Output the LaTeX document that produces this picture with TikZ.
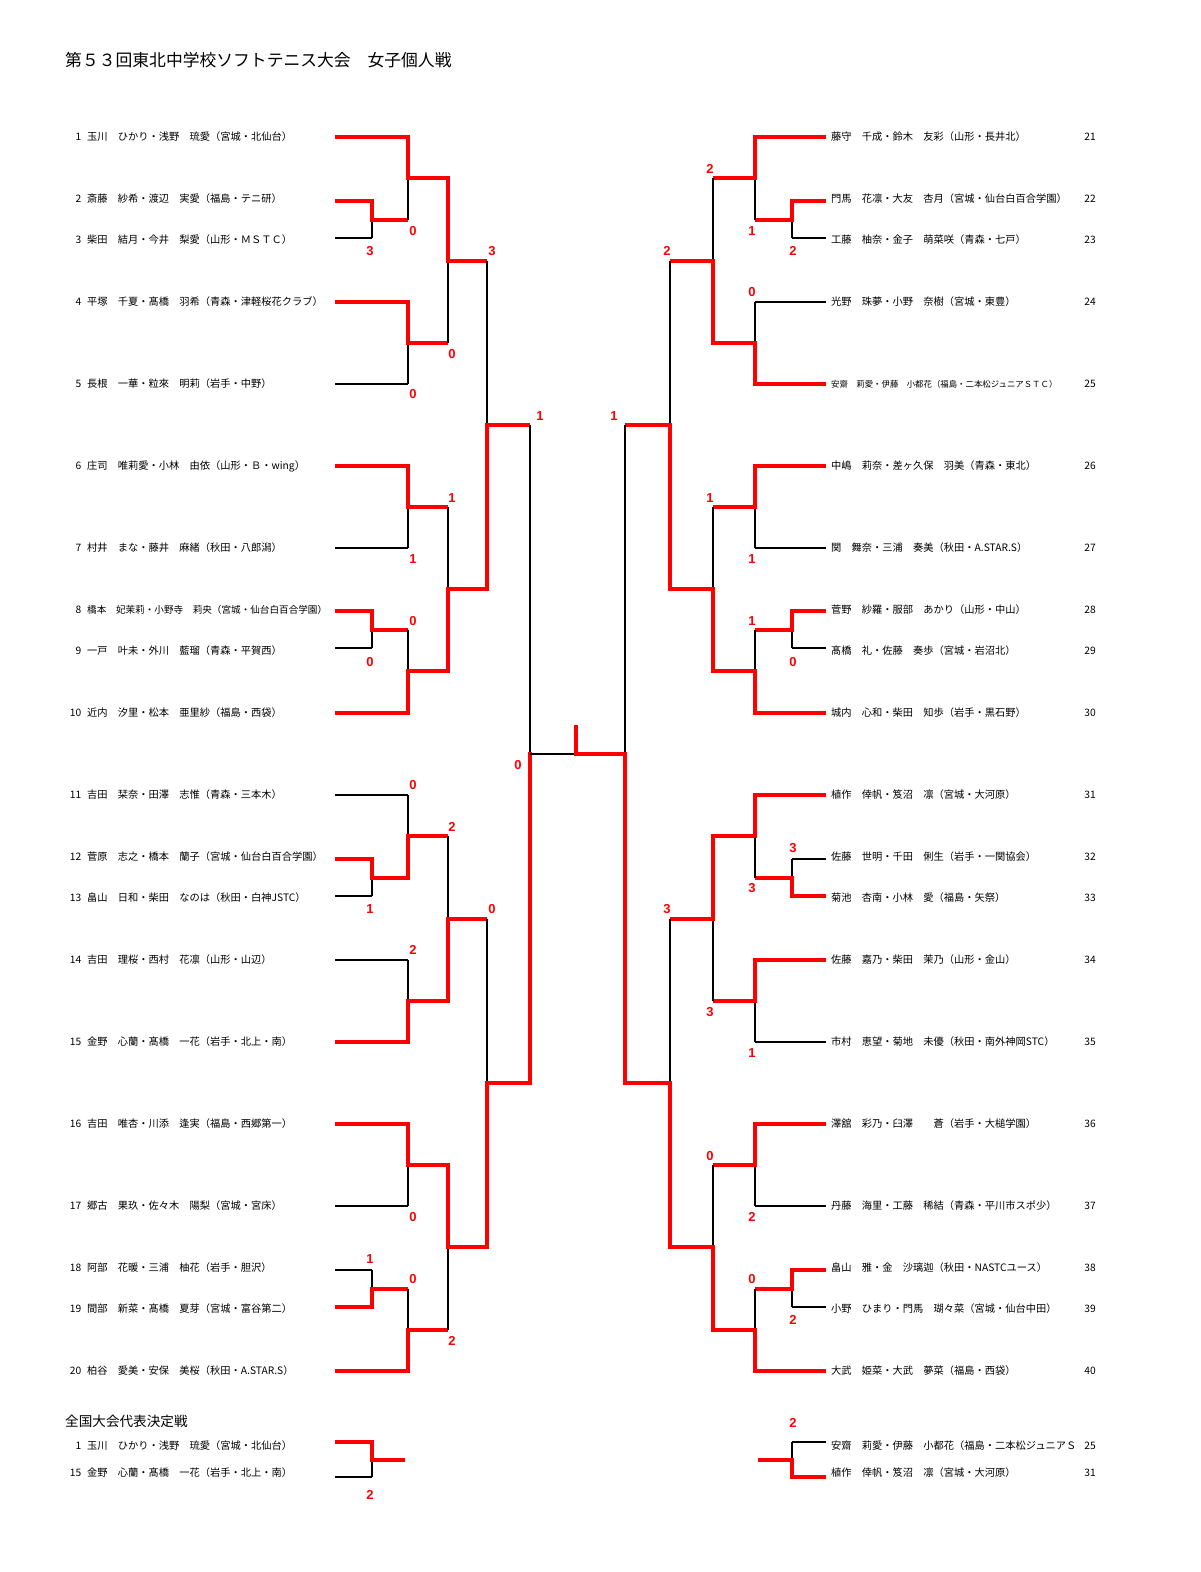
\documentclass[tikz,border=0pt]{standalone}
\usepackage{fontspec}
\setmainfont{Noto Sans CJK JP}
\newfontfamily\scorefont{Liberation Sans}
\usetikzlibrary{calc}

\newcommand{\rno}[1]{\makebox[12pt][r]{#1}\hspace{6pt}}
\newcommand{\bout}[6]{%
	\coordinate (#1) at ($(#2 |- #3)!.5!(#2 |- #4)$);
	\if#5t
		\draw[lose] (#2 |- #4) -- (#1);
		\draw[win,line cap=rect] (#2 |- #3) -- (#1);
	\else
		\draw[lose] (#2 |- #3) -- (#1);
		\draw[win,line cap=rect] (#2 |- #4) -- (#1);
	\fi
	\draw[win] (#1) -- (#6 |- #1);}

\begin{document}
\begin{tikzpicture}[x=1pt,y=-1pt,
	win/.style={draw=red,line width=4pt},
	lose/.style={draw=black,line width=1.6pt},
	entry/.style={anchor=west,inner sep=0pt,font=\fontsize{10.25}{12}\selectfont},
	idx/.style={anchor=east,inner sep=0pt,font=\fontsize{10.25}{12}\selectfont},
	score/.style={text=red,inner sep=0pt,font=\scorefont\bfseries\fontsize{13}{13}\selectfont}]
	\path[fill=white,use as bounding box] (0,0) rectangle (1200,1572);

	\node[anchor=west,inner sep=0pt,font=\fontsize{16.8}{20}\selectfont] (title) at (65,60) {第５３回東北中学校ソフトテニス大会　女子個人戦};

	\node[entry] (e1) at (69,137) {\rno{1}玉川　ひかり・浅野　琉愛（宮城・北仙台）};
	\node[entry] (e2) at (69,199) {\rno{2}斎藤　紗希・渡辺　実愛（福島・テニ研）};
	\node[entry] (e3) at (69,240) {\rno{3}柴田　結月・今井　梨愛（山形・ＭＳＴＣ）};
	\node[entry] (e4) at (69,302) {\rno{4}平塚　千夏・髙橋　羽希（青森・津軽桜花クラブ）};
	\node[entry] (e5) at (69,384) {\rno{5}長根　一華・粒來　明莉（岩手・中野）};
	\node[entry] (e6) at (69,466) {\rno{6}庄司　唯莉愛・小林　由依（山形・Ｂ・wing）};
	\node[entry] (e7) at (69,548) {\rno{7}村井　まな・藤井　麻緒（秋田・八郎潟）};
	\node[entry] (e8) at (69,610) {\rno{8}{\fontsize{9.6}{12}\selectfont 橋本　妃茉莉・小野寺　莉央（宮城・仙台白百合学園）}};
	\node[entry] (e9) at (69,651) {\rno{9}一戸　叶未・外川　藍瑠（青森・平賀西）};
	\node[entry] (e10) at (69,713) {\rno{10}近内　汐里・松本　亜里紗（福島・西袋）};
	\node[entry] (e11) at (69,795) {\rno{11}吉田　栞奈・田澤　志惟（青森・三本木）};
	\node[entry] (e12) at (69,857) {\rno{12}菅原　志之・橋本　蘭子（宮城・仙台白百合学園）};
	\node[entry] (e13) at (69,898) {\rno{13}畠山　日和・柴田　なのは（秋田・白神JSTC）};
	\node[entry] (e14) at (69,960) {\rno{14}吉田　理桜・西村　花凛（山形・山辺）};
	\node[entry] (e15) at (69,1042) {\rno{15}金野　心蘭・髙橋　一花（岩手・北上・南）};
	\node[entry] (e16) at (69,1124) {\rno{16}吉田　唯杏・川添　逢実（福島・西郷第一）};
	\node[entry] (e17) at (69,1206) {\rno{17}郷古　果玖・佐々木　陽梨（宮城・宮床）};
	\node[entry] (e18) at (69,1268) {\rno{18}阿部　花暖・三浦　柚花（岩手・胆沢）};
	\node[entry] (e19) at (69,1309) {\rno{19}間部　新菜・髙橋　夏芽（宮城・富谷第二）};
	\node[entry] (e20) at (69,1371) {\rno{20}柏谷　愛美・安保　美桜（秋田・A.STAR.S）};

	\node[entry] (e21) at (831,137) {藤守　千成・鈴木　友彩（山形・長井北）};
	\node[entry] (e22) at (831,199) {門馬　花凛・大友　杏月（宮城・仙台白百合学園）};
	\node[entry] (e23) at (831,240) {工藤　柚奈・金子　萌菜咲（青森・七戸）};
	\node[entry] (e24) at (831,302) {光野　珠夢・小野　奈樹（宮城・東豊）};
	\node[entry] (e25) at (831,384) {{\fontsize{8.4}{10}\selectfont 安齋　莉愛・伊藤　小都花（福島・二本松ジュニアＳＴＣ）}};
	\node[entry] (e26) at (831,466) {中嶋　莉奈・差ヶ久保　羽美（青森・東北）};
	\node[entry] (e27) at (831,548) {関　舞奈・三浦　奏美（秋田・A.STAR.S）};
	\node[entry] (e28) at (831,610) {菅野　紗羅・服部　あかり（山形・中山）};
	\node[entry] (e29) at (831,651) {髙橋　礼・佐藤　奏歩（宮城・岩沼北）};
	\node[entry] (e30) at (831,713) {城内　心和・柴田　知歩（岩手・黒石野）};
	\node[entry] (e31) at (831,795) {植作　倖帆・笈沼　凛（宮城・大河原）};
	\node[entry] (e32) at (831,857) {佐藤　世明・千田　俐生（岩手・一関協会）};
	\node[entry] (e33) at (831,898) {菊池　杏南・小林　愛（福島・矢祭）};
	\node[entry] (e34) at (831,960) {佐藤　嘉乃・柴田　茉乃（山形・金山）};
	\node[entry] (e35) at (831,1042) {市村　恵望・菊地　未優（秋田・南外神岡STC）};
	\node[entry] (e36) at (831,1124) {澤舘　彩乃・臼澤　　蒼（岩手・大槌学園）};
	\node[entry] (e37) at (831,1206) {丹藤　海里・工藤　稀結（青森・平川市スポ少）};
	\node[entry] (e38) at (831,1268) {畠山　雅・金　沙璃迦（秋田・NASTCユース）};
	\node[entry] (e39) at (831,1309) {小野　ひまり・門馬　瑚々菜（宮城・仙台中田）};
	\node[entry] (e40) at (831,1371) {大武　姫菜・大武　夢菜（福島・西袋）};

	\node[idx] (k21) at (1096,137) {21};
	\node[idx] (k22) at (1096,199) {22};
	\node[idx] (k23) at (1096,240) {23};
	\node[idx] (k24) at (1096,302) {24};
	\node[idx] (k25) at (1096,384) {25};
	\node[idx] (k26) at (1096,466) {26};
	\node[idx] (k27) at (1096,548) {27};
	\node[idx] (k28) at (1096,610) {28};
	\node[idx] (k29) at (1096,651) {29};
	\node[idx] (k30) at (1096,713) {30};
	\node[idx] (k31) at (1096,795) {31};
	\node[idx] (k32) at (1096,857) {32};
	\node[idx] (k33) at (1096,898) {33};
	\node[idx] (k34) at (1096,960) {34};
	\node[idx] (k35) at (1096,1042) {35};
	\node[idx] (k36) at (1096,1124) {36};
	\node[idx] (k37) at (1096,1206) {37};
	\node[idx] (k38) at (1096,1268) {38};
	\node[idx] (k39) at (1096,1309) {39};
	\node[idx] (k40) at (1096,1371) {40};

	\coordinate (L0) at (372,0);
	\coordinate (L1) at (408,0);
	\coordinate (L2) at (448,0);
	\coordinate (L3) at (487,0);
	\coordinate (L4) at (530,0);
	\coordinate (F) at (576,0);
	\coordinate (R4) at (625,0);
	\coordinate (R3) at (670,0);
	\coordinate (R2) at (713,0);
	\coordinate (R1) at (755,0);
	\coordinate (R0) at (792,0);

	\coordinate (a1) at (335,137); \draw[win] (a1) -- (L1 |- a1);
	\coordinate (a2) at (335,201); \draw[win] (a2) -- (L0 |- a2);
	\coordinate (a3) at (335,238); \draw[lose] (a3) -- (L0 |- a3);
	\coordinate (a4) at (335,302); \draw[win] (a4) -- (L1 |- a4);
	\coordinate (a5) at (335,384); \draw[lose] (a5) -- (L1 |- a5);
	\coordinate (a6) at (335,466); \draw[win] (a6) -- (L1 |- a6);
	\coordinate (a7) at (335,548); \draw[lose] (a7) -- (L1 |- a7);
	\coordinate (a8) at (335,611); \draw[win] (a8) -- (L0 |- a8);
	\coordinate (a9) at (335,648); \draw[lose] (a9) -- (L0 |- a9);
	\coordinate (a10) at (335,713); \draw[win] (a10) -- (L1 |- a10);
	\coordinate (a11) at (335,795); \draw[lose] (a11) -- (L1 |- a11);
	\coordinate (a12) at (335,859); \draw[win] (a12) -- (L0 |- a12);
	\coordinate (a13) at (335,896); \draw[lose] (a13) -- (L0 |- a13);
	\coordinate (a14) at (335,960); \draw[lose] (a14) -- (L1 |- a14);
	\coordinate (a15) at (335,1042); \draw[win] (a15) -- (L1 |- a15);
	\coordinate (a16) at (335,1124); \draw[win] (a16) -- (L1 |- a16);
	\coordinate (a17) at (335,1206); \draw[lose] (a17) -- (L1 |- a17);
	\coordinate (a18) at (335,1270); \draw[lose] (a18) -- (L0 |- a18);
	\coordinate (a19) at (335,1307); \draw[win] (a19) -- (L0 |- a19);
	\coordinate (a20) at (335,1371); \draw[win] (a20) -- (L1 |- a20);

	\coordinate (a21) at (826,137); \draw[win] (a21) -- (R1 |- a21);
	\coordinate (a22) at (826,201); \draw[win] (a22) -- (R0 |- a22);
	\coordinate (a23) at (826,238); \draw[lose] (a23) -- (R0 |- a23);
	\coordinate (a24) at (826,302); \draw[lose] (a24) -- (R1 |- a24);
	\coordinate (a25) at (826,384); \draw[win] (a25) -- (R1 |- a25);
	\coordinate (a26) at (826,466); \draw[win] (a26) -- (R1 |- a26);
	\coordinate (a27) at (826,548); \draw[lose] (a27) -- (R1 |- a27);
	\coordinate (a28) at (826,611); \draw[win] (a28) -- (R0 |- a28);
	\coordinate (a29) at (826,648); \draw[lose] (a29) -- (R0 |- a29);
	\coordinate (a30) at (826,713); \draw[win] (a30) -- (R1 |- a30);
	\coordinate (a31) at (826,795); \draw[win] (a31) -- (R1 |- a31);
	\coordinate (a32) at (826,859); \draw[lose] (a32) -- (R0 |- a32);
	\coordinate (a33) at (826,896); \draw[win] (a33) -- (R0 |- a33);
	\coordinate (a34) at (826,960); \draw[win] (a34) -- (R1 |- a34);
	\coordinate (a35) at (826,1042); \draw[lose] (a35) -- (R1 |- a35);
	\coordinate (a36) at (826,1124); \draw[win] (a36) -- (R1 |- a36);
	\coordinate (a37) at (826,1206); \draw[lose] (a37) -- (R1 |- a37);
	\coordinate (a38) at (826,1270); \draw[win] (a38) -- (R0 |- a38);
	\coordinate (a39) at (826,1307); \draw[lose] (a39) -- (R0 |- a39);
	\coordinate (a40) at (826,1371); \draw[win] (a40) -- (R1 |- a40);

	\bout{p2}{L0}{a2}{a3}{t}{L1}
	\bout{m1}{L1}{a1}{p2}{t}{L2}
	\bout{m2}{L1}{a4}{a5}{t}{L2}
	\bout{q1}{L2}{m1}{m2}{t}{L3}
	\bout{m3}{L1}{a6}{a7}{t}{L2}
	\bout{p8}{L0}{a8}{a9}{t}{L1}
	\bout{m4}{L1}{p8}{a10}{b}{L2}
	\bout{q2}{L2}{m3}{m4}{b}{L3}
	\bout{t1}{L3}{q1}{q2}{b}{L4}
	\bout{p12}{L0}{a12}{a13}{t}{L1}
	\bout{m5}{L1}{a11}{p12}{b}{L2}
	\bout{m6}{L1}{a14}{a15}{b}{L2}
	\bout{q3}{L2}{m5}{m6}{b}{L3}
	\bout{m7}{L1}{a16}{a17}{t}{L2}
	\bout{p18}{L0}{a18}{a19}{b}{L1}
	\bout{m8}{L1}{p18}{a20}{b}{L2}
	\bout{q4}{L2}{m7}{m8}{t}{L3}
	\bout{t2}{L3}{q3}{q4}{b}{L4}

	\bout{p22}{R0}{a22}{a23}{t}{R1}
	\bout{n1}{R1}{a21}{p22}{t}{R2}
	\bout{n2}{R1}{a24}{a25}{b}{R2}
	\bout{r1}{R2}{n1}{n2}{b}{R3}
	\bout{n3}{R1}{a26}{a27}{t}{R2}
	\bout{p28}{R0}{a28}{a29}{t}{R1}
	\bout{n4}{R1}{p28}{a30}{b}{R2}
	\bout{r2}{R2}{n3}{n4}{b}{R3}
	\bout{u1}{R3}{r1}{r2}{b}{R4}
	\bout{p32}{R0}{a32}{a33}{b}{R1}
	\bout{n5}{R1}{a31}{p32}{t}{R2}
	\bout{n6}{R1}{a34}{a35}{t}{R2}
	\bout{r3}{R2}{n5}{n6}{t}{R3}
	\bout{n7}{R1}{a36}{a37}{t}{R2}
	\bout{p38}{R0}{a38}{a39}{t}{R1}
	\bout{n8}{R1}{p38}{a40}{b}{R2}
	\bout{r4}{R2}{n7}{n8}{b}{R3}
	\bout{u2}{R3}{r3}{r4}{b}{R4}

	\coordinate (sL) at ($(L4 |- t1)!.5!(L4 |- t2)$);
	\draw[lose] (L4 |- t1) -- (sL);
	\draw[win,line cap=rect] (L4 |- t2) -- (sL);
	\coordinate (sR) at ($(R4 |- u1)!.5!(R4 |- u2)$);
	\draw[lose] (R4 |- u1) -- (sR);
	\draw[win,line cap=rect] (R4 |- u2) -- (sR);
	\coordinate (fw) at (576,725);
	\draw[lose] (sL) -- (F |- sL);
	\draw[win] (sR) -- (F |- sR) -- (fw);

	\node[anchor=west,inner sep=0pt,font=\fontsize{13.6}{16}\selectfont] (sub) at (65,1421) {全国大会代表決定戦};
	\node[entry] (x1) at (69,1446) {\rno{1}玉川　ひかり・浅野　琉愛（宮城・北仙台）};
	\node[entry] (x15) at (69,1473) {\rno{15}金野　心蘭・髙橋　一花（岩手・北上・南）};
	\begin{scope}
		\clip (831,1430) rectangle (1078,1462);
		\node[entry] (x25) at (831,1446) {\makebox[246pt][l]{安齋　莉愛・伊藤　小都花（福島・二本松ジュニアＳ}};
	\end{scope}
	\node[entry] (x31) at (831,1473) {植作　倖帆・笈沼　凛（宮城・大河原）};
	\node[idx] (kx25) at (1096,1446) {25};
	\node[idx] (kx31) at (1096,1473) {31};

	\coordinate (G1) at (405,0);
	\coordinate (G2) at (758,0);
	\coordinate (b1) at (335,1442); \draw[win] (b1) -- (L0 |- b1);
	\coordinate (b15) at (335,1477); \draw[lose] (b15) -- (L0 |- b15);
	\coordinate (b25) at (826,1442); \draw[lose] (b25) -- (R0 |- b25);
	\coordinate (b31) at (826,1477); \draw[win] (b31) -- (R0 |- b31);
	\bout{f1}{L0}{b1}{b15}{t}{G1}
	\bout{f2}{R0}{b25}{b31}{b}{G2}

	\node[score] (s1) at (413,231) {0};
	\node[score] (s2) at (370,251) {3};
	\node[score] (s3) at (492,251) {3};
	\node[score] (s4) at (452,354) {0};
	\node[score] (s5) at (413,394) {0};
	\node[score] (s6) at (540,416) {1};
	\node[score] (s7) at (452,498) {1};
	\node[score] (s8) at (413,559) {1};
	\node[score] (s9) at (413,621) {0};
	\node[score] (s10) at (370,662) {0};
	\node[score] (s11) at (518,765) {0};
	\node[score] (s12) at (413,785) {0};
	\node[score] (s13) at (452,827) {2};
	\node[score] (s14) at (370,909) {1};
	\node[score] (s15) at (492,909) {0};
	\node[score] (s16) at (413,950) {2};
	\node[score] (s17) at (413,1217) {0};
	\node[score] (s18) at (370,1259) {1};
	\node[score] (s19) at (413,1279) {0};
	\node[score] (s20) at (452,1341) {2};
	\node[score] (s21) at (370,1495) {2};
	\node[score] (s22) at (710,169) {2};
	\node[score] (s23) at (752,231) {1};
	\node[score] (s24) at (667,251) {2};
	\node[score] (s25) at (793,251) {2};
	\node[score] (s26) at (752,292) {0};
	\node[score] (s27) at (614,416) {1};
	\node[score] (s28) at (710,498) {1};
	\node[score] (s29) at (752,559) {1};
	\node[score] (s30) at (752,621) {1};
	\node[score] (s31) at (793,662) {0};
	\node[score] (s32) at (793,848) {3};
	\node[score] (s33) at (752,888) {3};
	\node[score] (s34) at (667,909) {3};
	\node[score] (s35) at (710,1012) {3};
	\node[score] (s36) at (752,1053) {1};
	\node[score] (s37) at (710,1156) {0};
	\node[score] (s38) at (752,1217) {2};
	\node[score] (s39) at (752,1279) {0};
	\node[score] (s40) at (793,1320) {2};
	\node[score] (s41) at (793,1423) {2};
\end{tikzpicture}
\end{document}
